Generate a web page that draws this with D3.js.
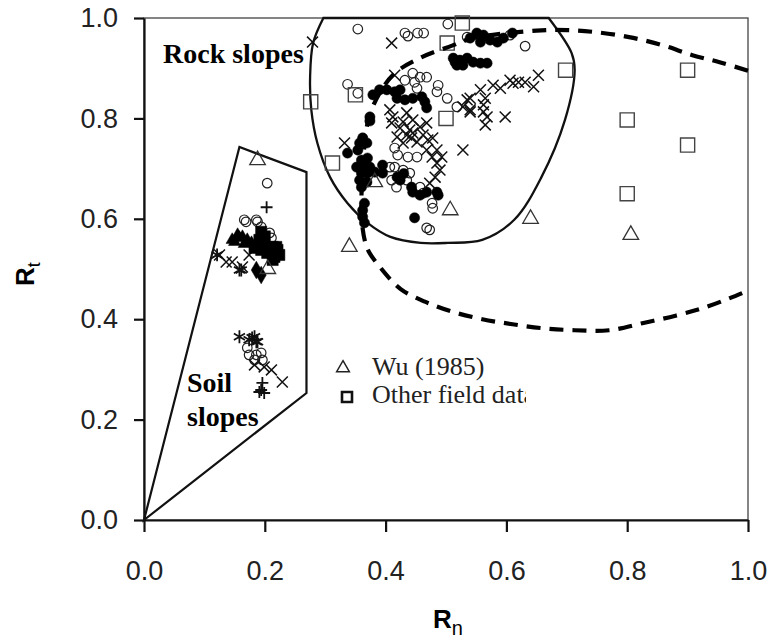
<!DOCTYPE html>
<html>
<head>
<meta charset="utf-8">
<script src="https://cdn.jsdelivr.net/npm/d3@7"></script>
<style>
  body { margin: 0; background: #fff; }
  .tick text { font-family: "Liberation Sans", Arial, sans-serif; font-size: 27px; fill: #222; }
</style>
</head>
<body>
<div id="chart"></div>
<script>
// tick values on both axes
const ticks = [0, 0.2, 0.4, 0.6, 0.8, 1.0];

// Rock slope data [Rn, Rt]
const circlesOpen = [
  [0.354,0.978],[0.432,0.97],[0.437,0.964],[0.453,0.97],[0.463,0.97],[0.503,0.988],[0.535,0.962],
  [0.606,0.966],[0.631,0.944],[0.337,0.868],[0.354,0.85],[0.445,0.89],[0.457,0.882],[0.468,0.882],
  [0.432,0.876],[0.448,0.872],[0.452,0.86],[0.487,0.866],[0.485,0.853],[0.502,0.84],[0.518,0.823],
  [0.437,0.723],[0.415,0.741],[0.42,0.727],[0.452,0.723],[0.407,0.703],[0.415,0.703],[0.429,0.697],
  [0.44,0.691],[0.41,0.677],[0.418,0.663],[0.435,0.677],[0.457,0.663],[0.462,0.651],[0.477,0.631],
  [0.478,0.621],[0.468,0.582],[0.473,0.578],
  // soil
  [0.204,0.671],[0.169,0.594],[0.188,0.594],[0.194,0.584],[0.208,0.572],[0.211,0.562],[0.166,0.598],
  [0.186,0.598],[0.171,0.343],[0.174,0.329],[0.186,0.329],[0.183,0.319],[0.196,0.319],[0.194,0.333]
];

const circlesFilled = [
  [0.551,0.97],[0.562,0.966],[0.573,0.956],[0.585,0.952],[0.595,0.96],[0.557,0.952],[0.54,0.96],
  [0.61,0.97],[0.512,0.92],[0.523,0.916],[0.535,0.92],[0.545,0.912],[0.518,0.906],[0.528,0.906],
  [0.557,0.91],[0.568,0.91],[0.515,0.912],
  [0.379,0.847],[0.39,0.857],[0.402,0.857],[0.415,0.853],[0.424,0.857],[0.419,0.84],[0.432,0.837],
  [0.445,0.84],[0.46,0.843],[0.465,0.833],[0.468,0.821],
  [0.374,0.803],[0.374,0.795],[0.362,0.761],[0.357,0.751],[0.369,0.751],[0.337,0.731],[0.354,0.737],
  [0.36,0.717],[0.37,0.721],[0.352,0.703],[0.365,0.703],[0.374,0.703],[0.36,0.691],[0.37,0.691],
  [0.382,0.693],[0.357,0.677],[0.369,0.673],[0.36,0.663],[0.365,0.631],[0.362,0.617],[0.362,0.604],
  [0.365,0.592],
  [0.395,0.707],[0.395,0.691],[0.419,0.683],[0.424,0.677],[0.43,0.69],[0.443,0.663],[0.445,0.653],
  [0.457,0.647],[0.468,0.653],[0.485,0.653],[0.487,0.647],[0.448,0.602]
];

const crosses = [
  [0.279,0.952],[0.41,0.95],[0.415,0.886],[0.653,0.886],[0.645,0.863],[0.631,0.872],[0.62,0.872],
  [0.611,0.87],[0.606,0.876],[0.59,0.86],[0.578,0.866],[0.557,0.857],[0.54,0.84],[0.565,0.84],
  [0.562,0.827],[0.528,0.823],[0.54,0.813],[0.562,0.813],[0.568,0.803],[0.565,0.787],[0.598,0.803],
  [0.528,0.737],[0.407,0.817],[0.412,0.803],[0.435,0.811],[0.41,0.791],[0.429,0.793],[0.445,0.797],
  [0.424,0.781],[0.44,0.777],[0.457,0.783],[0.468,0.791],[0.419,0.763],[0.435,0.767],[0.445,0.771],
  [0.443,0.761],[0.452,0.753],[0.462,0.767],[0.47,0.757],[0.478,0.761],[0.429,0.751],[0.468,0.737],
  [0.485,0.737],[0.493,0.723],[0.477,0.723],[0.485,0.711],[0.49,0.697],[0.482,0.683],[0.473,0.671],
  [0.332,0.751],[0.535,0.837],[0.54,0.817],
  // soil
  [0.125,0.528],[0.136,0.514],[0.146,0.514],[0.163,0.504],[0.174,0.528],[0.183,0.309],[0.199,0.305],
  [0.211,0.299],[0.229,0.275]
];

const asterisks = [
  [0.121,0.528],[0.158,0.498],[0.161,0.498],[0.158,0.365],[0.179,0.363],[0.186,0.355],[0.174,0.359],
  [0.188,0.355],[0.183,0.365]
];
const pluses = [[0.203,0.623],[0.196,0.273],[0.194,0.259],[0.199,0.253],[0.191,0.255]];
const trianglesFilled = [
  [0.155,0.568],[0.163,0.564],[0.171,0.558],[0.15,0.554],[0.146,0.558],[0.158,0.562],[0.166,0.55],[0.178,0.552]
];
const squaresFilled = [
  [0.194,0.574],[0.191,0.558],[0.199,0.552],[0.213,0.544],[0.221,0.538],[0.216,0.524],[0.204,0.532],
  [0.194,0.538],[0.183,0.542],[0.219,0.544],[0.224,0.528],[0.213,0.518],[0.2,0.565]
];
const diamondsFilled = [[0.194,0.488],[0.186,0.498]];

// Wu (1985)
const wuData = [[0.382,0.673],[0.507,0.617],[0.64,0.60],[0.34,0.544],[0.806,0.568],[0.188,0.717],[0.205,0.50]];
// Other field data
const otherField = [
  [0.527,0.99],[0.502,0.95],[0.276,0.833],[0.35,0.847],[0.50,0.80],[0.312,0.711],[0.698,0.896],
  [0.80,0.797],[0.80,0.65],[0.90,0.896],[0.90,0.747]
];

// outlines
const rockOutline = [
  [0.297,1.0],[0.28,0.95],[0.275,0.882],[0.277,0.817],[0.287,0.751],[0.308,0.683],[0.337,0.631],
  [0.37,0.592],[0.408,0.564],[0.458,0.552],[0.503,0.552],[0.56,0.558],[0.613,0.598],[0.658,0.683],
  [0.697,0.797],[0.713,0.896],[0.708,0.93],[0.67,1.0]
];
const soilOutline = [[0,0],[0.158,0.743],[0.269,0.693],[0.269,0.253]];
const dashedCurve = [
  [1.0,0.895],[0.953,0.912],[0.908,0.926],[0.858,0.946],[0.803,0.962],[0.747,0.972],[0.70,0.976],
  [0.65,0.975],[0.545,0.96],[0.51,0.945],[0.46,0.922],[0.415,0.89],[0.39,0.85],[0.372,0.80],
  [0.363,0.72],[0.36,0.64],[0.361,0.59],[0.37,0.54],[0.39,0.505],[0.425,0.46],[0.465,0.435],
  [0.51,0.415],[0.56,0.40],[0.61,0.39],[0.66,0.382],[0.713,0.378],[0.77,0.378],[0.825,0.392],
  [0.88,0.407],[0.925,0.422],[0.97,0.442],[1.0,0.457]
];

const width = 771, height = 639;
const svg = d3.select('#chart').append('svg')
  .attr('width', width)
  .attr('height', height);

const x = d3.scaleLinear().domain([0, 1]).range([144, 748]);
const y = d3.scaleLinear().domain([0, 1]).range([520, 18]);

// frame
svg.append('rect')
  .attr('x', x(0)).attr('y', y(1))
  .attr('width', x(1) - x(0)).attr('height', y(0) - y(1))
  .attr('fill', 'none').attr('stroke', '#444').attr('stroke-width', 1.3);

const fmt = d3.format('.1f');
const xAxis = svg.append('g')
  .attr('transform', `translate(0,${y(0)})`)
  .call(d3.axisBottom(x).tickValues(ticks).tickFormat(fmt).tickSize(12).tickSizeOuter(0).tickPadding(29));
const yAxis = svg.append('g')
  .attr('transform', `translate(${x(0)},0)`)
  .call(d3.axisLeft(y).tickValues(ticks).tickFormat(fmt).tickSize(10).tickSizeOuter(0).tickPadding(16));
[xAxis, yAxis].forEach(g => {
  g.select('.domain').attr('stroke', '#111').attr('stroke-width', 2.2);
  g.selectAll('.tick line').attr('stroke', '#111').attr('stroke-width', 2.2);
});

// region outlines
const line = d3.line().x(d => x(d[0])).y(d => y(d[1]));
svg.append('path')
  .attr('d', line.curve(d3.curveCatmullRom.alpha(0.5))(rockOutline) + 'Z')
  .attr('fill', 'none').attr('stroke', '#111').attr('stroke-width', 2.3);
svg.append('path')
  .attr('d', line.curve(d3.curveLinear)(soilOutline) + 'Z')
  .attr('fill', 'none').attr('stroke', '#111').attr('stroke-width', 2.2);

// markers
function drawSymbols(data, type, size, filled, sw, color) {
  svg.append('g').selectAll('path')
    .data(data)
    .join('path')
      .attr('transform', d => `translate(${x(d[0])},${y(d[1])})`)
      .attr('d', d3.symbol().type(type).size(size))
      .attr('fill', filled ? color : 'none')
      .attr('stroke', color)
      .attr('stroke-width', sw);
}
drawSymbols(circlesOpen, d3.symbolCircle, 72, false, 1.2, '#222');
drawSymbols(circlesFilled, d3.symbolCircle, 82, true, 0.5, '#000');
drawSymbols(crosses, d3.symbolTimes, 80, false, 1.5, '#111');
drawSymbols(asterisks, d3.symbolAsterisk, 115, false, 1.8, '#111');
drawSymbols(pluses, d3.symbolPlus, 48, false, 1.8, '#111');
drawSymbols(trianglesFilled, d3.symbolTriangle, 65, true, 0.5, '#000');
drawSymbols(squaresFilled, d3.symbolSquare, 125, true, 0.5, '#000');
drawSymbols(diamondsFilled, d3.symbolDiamond, 90, true, 0.5, '#000');
drawSymbols(wuData, d3.symbolTriangle, 105, false, 1.3, '#333');
drawSymbols(otherField, d3.symbolSquare, 200, false, 1.4, '#444');

// dashed boundary
svg.append('path')
  .attr('d', line.curve(d3.curveCatmullRom.alpha(0.5))(dashedCurve))
  .attr('fill', 'none').attr('stroke', '#000').attr('stroke-width', 4.2)
  .attr('stroke-dasharray', '14,9');

// region labels
const serif = '"Liberation Serif", "Times New Roman", serif';
svg.append('text').attr('x', 163).attr('y', 63)
  .attr('font-family', serif).attr('font-size', 28).attr('font-weight', 'bold')
  .text('Rock slopes');
svg.append('text').attr('x', 187).attr('y', 392)
  .attr('font-family', serif).attr('font-size', 28).attr('font-weight', 'bold')
  .text('Soil');
svg.append('text').attr('x', 187).attr('y', 426)
  .attr('font-family', serif).attr('font-size', 28).attr('font-weight', 'bold')
  .text('slopes');

// legend (clipped like the original)
svg.append('clipPath').attr('id', 'legclip')
  .append('rect').attr('x', 320).attr('y', 340).attr('width', 206).attr('height', 80);
const legend = svg.append('g').attr('clip-path', 'url(#legclip)');
legend.append('path')
  .attr('transform', 'translate(343,368)')
  .attr('d', d3.symbol().type(d3.symbolTriangle).size(70))
  .attr('fill', 'none').attr('stroke', '#222').attr('stroke-width', 1.5);
legend.append('path')
  .attr('transform', 'translate(347,397)')
  .attr('d', d3.symbol().type(d3.symbolSquare).size(100))
  .attr('fill', 'none').attr('stroke', '#111').attr('stroke-width', 2.6);
legend.append('text').attr('x', 372).attr('y', 375)
  .attr('font-family', serif).attr('font-size', 26).attr('fill', '#222')
  .text('Wu (1985)');
legend.append('text').attr('x', 372).attr('y', 403)
  .attr('font-family', serif).attr('font-size', 26).attr('fill', '#222')
  .text('Other field data');

// axis titles
const sans = '"Liberation Sans", Arial, sans-serif';
const xt = svg.append('text').attr('x', 433).attr('y', 628)
  .attr('font-family', sans).attr('font-size', 26).attr('font-weight', 'bold');
xt.append('tspan').text('R');
xt.append('tspan').attr('dy', 7).attr('font-size', 20).attr('font-weight', 'normal').text('n');

const yt = svg.append('text')
  .attr('transform', 'translate(34,286) rotate(-90)')
  .attr('font-family', sans).attr('font-size', 26).attr('font-weight', 'bold');
yt.append('tspan').text('R');
yt.append('tspan').attr('dy', 6).attr('font-size', 18).attr('font-weight', 'normal').text('t');
</script>
</body>
</html>
